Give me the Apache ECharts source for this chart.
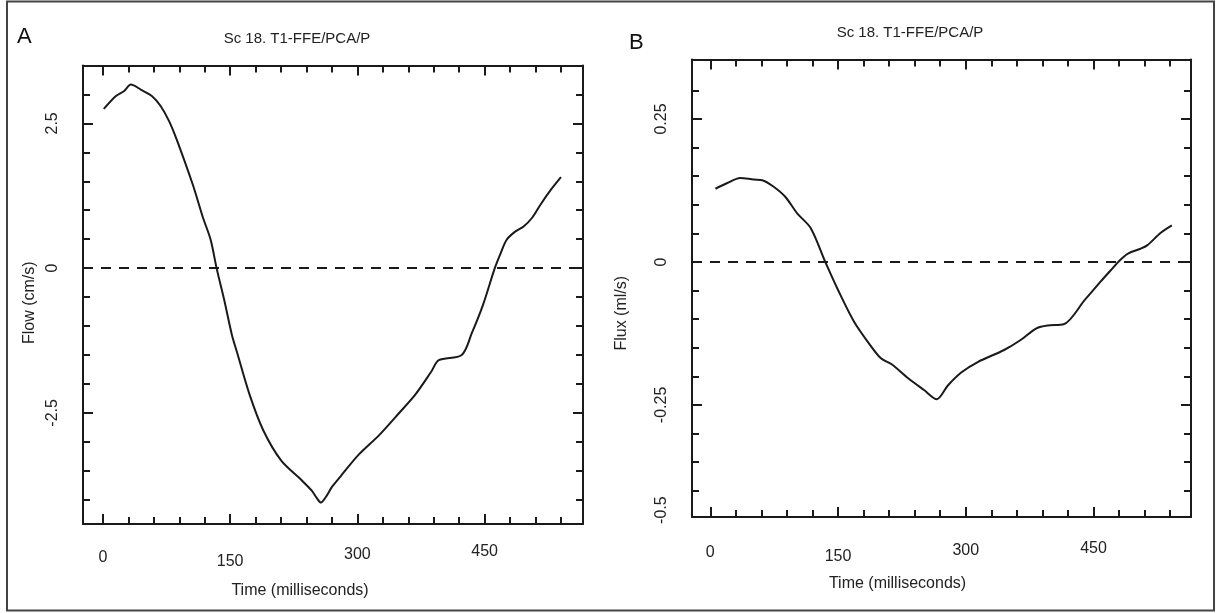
<!DOCTYPE html>
<html>
<head>
<meta charset="utf-8">
<script src="https://cdn.jsdelivr.net/npm/echarts@6/dist/echarts.min.js"></script>
<style>
html,body{margin:0;padding:0;background:#fff;}
#c{width:1216px;height:613px;}
</style>
</head>
<body>
<div id="c"></div>
<script>
// ---------- data ----------
const panelTitle = 'Sc 18. T1-FFE/PCA/P';
const xName = 'Time (milliseconds)';
const yNameA = 'Flow (cm/s)';
const yNameB = 'Flux (ml/s)';

// Panel A: flow velocity (cm/s)
const timeA = [1, 15, 25, 33, 45, 58, 68, 78, 87, 106, 118, 127, 134, 143, 152, 158, 173, 189, 210, 234, 246, 252, 257, 263, 270, 280, 301, 326, 350, 368, 387, 396, 423, 435, 448, 462, 469, 476, 486, 496, 506, 516, 528, 540];
const flowA = [2.75, 2.97, 3.06, 3.17, 3.08, 2.97, 2.80, 2.54, 2.22, 1.44, 0.87, 0.49, 0.0, -0.55, -1.15, -1.45, -2.19, -2.80, -3.32, -3.66, -3.84, -3.97, -4.05, -3.95, -3.78, -3.60, -3.23, -2.88, -2.49, -2.19, -1.79, -1.59, -1.50, -1.12, -0.64, 0.0, 0.26, 0.49, 0.63, 0.72, 0.87, 1.10, 1.35, 1.57];

// Panel B: flux (ml/s)
const timeB = [6, 20, 35, 51, 61, 74, 88, 102, 118, 135, 150, 169, 188, 200, 213, 232, 251, 266, 279, 295, 314, 345, 364, 383, 396, 415, 440, 458, 470, 481, 491, 505, 513, 529, 542];
const fluxB = [0.128, 0.138, 0.147, 0.144, 0.143, 0.132, 0.114, 0.085, 0.059, 0.0, -0.049, -0.105, -0.146, -0.168, -0.179, -0.203, -0.224, -0.240, -0.216, -0.193, -0.175, -0.154, -0.137, -0.116, -0.111, -0.109, -0.066, -0.035, -0.015, 0.003, 0.015, 0.023, 0.029, 0.051, 0.064];

// ticks & labels
const xMinorTicks = [0, 30, 60, 90, 120, 150, 180, 210, 240, 270, 300, 330, 360, 390, 420, 450, 480, 510, 540];
const xMajorTicks = [0, 150, 300, 450];
const xLabelVals = [0, 150, 300, 450];
const xLabelTexts = ['0', '150', '300', '450'];

const yMinorTicksA = [-4, -3.5, -3, -2.5, -2, -1.5, -1, -0.5, 0, 0.5, 1, 1.5, 2, 2.5, 3];
const yMajorTicksA = [-2.5, 0, 2.5];
const yLabelValsA = [2.5, 0, -2.5];
const yLabelTextsA = ['2.5', '0', '-2.5'];

const yMinorTicksB = [-0.4, -0.35, -0.3, -0.25, -0.2, -0.15, -0.1, -0.05, 0, 0.05, 0.1, 0.15, 0.2, 0.25, 0.3];
const yMajorTicksB = [-0.25, 0, 0.25];
const yLabelValsB = [0.25, 0, -0.25, -0.434];
const yLabelTextsB = ['0.25', '0', '-0.25', '-0.5'];

// ---------- chart ----------
const INK = '#1a1a1a';
const TXT = '#222';
const FONT = 'Liberation Sans, Arial, sans-serif';

function lookup(vals, texts, v) {
  for (let i = 0; i < vals.length; i++) if (Math.abs(vals[i] - v) < 1e-6) return texts[i];
  return '';
}

function xAxesFor(gi, min, max, labelMargin, padTops, nameShift) {
  const rich = {};
  padTops.forEach((p, i) => { rich['s' + i] = { fontSize: 16, fontFamily: FONT, color: TXT, padding: [p, 0, 0, 0] }; });
  const hidden = { show: false, onZero: false };
  return [
    { type: 'value', gridIndex: gi, position: 'bottom', min, max,
      axisLine: { show: true, onZero: false, lineStyle: { color: INK, width: 2 } },
      axisTick: { show: true, inside: true, length: 7, lineStyle: { color: INK, width: 2 }, customValues: xMinorTicks },
      axisLabel: { show: true, margin: labelMargin, customValues: xLabelVals,
        formatter: v => { const i = xLabelVals.indexOf(v); return i < 0 ? '' : '{s' + i + '|' + xLabelTexts[i] + '}'; }, rich },
      splitLine: { show: false },
      name: xName, nameLocation: 'middle', nameGap: 59,
      nameTextStyle: { fontSize: 16, fontFamily: FONT, color: TXT, padding: nameShift } },
    { type: 'value', gridIndex: gi, position: 'bottom', min, max,
      axisLine: hidden,
      axisTick: { show: true, inside: true, length: 10, lineStyle: { color: INK, width: 2 }, customValues: xMajorTicks },
      axisLabel: { show: false }, splitLine: { show: false } },
    { type: 'value', gridIndex: gi, position: 'top', min, max,
      axisLine: { show: true, onZero: false, lineStyle: { color: INK, width: 2 } },
      axisTick: { show: true, inside: true, length: 7, lineStyle: { color: INK, width: 2 }, customValues: xMinorTicks },
      axisLabel: { show: false }, splitLine: { show: false } },
    { type: 'value', gridIndex: gi, position: 'top', min, max,
      axisLine: hidden,
      axisTick: { show: true, inside: true, length: 10, lineStyle: { color: INK, width: 2 }, customValues: xMajorTicks },
      axisLabel: { show: false }, splitLine: { show: false } }
  ];
}

function yAxesFor(gi, min, max, minor, major, lvals, ltexts, name, nameGap, namePad) {
  const hidden = { show: false, onZero: false };
  return [
    { type: 'value', gridIndex: gi, position: 'left', min, max,
      axisLine: { show: true, onZero: false, lineStyle: { color: INK, width: 2 } },
      axisTick: { show: true, inside: true, length: 7, lineStyle: { color: INK, width: 2 }, customValues: minor },
      axisLabel: { show: true, rotate: 90, margin: 22, customValues: lvals, fontSize: 16, fontFamily: FONT, color: TXT,
        formatter: v => lookup(lvals, ltexts, v) },
      splitLine: { show: false },
      name, nameLocation: 'middle', nameGap,
      nameTextStyle: { fontSize: 16, fontFamily: FONT, color: TXT, padding: namePad } },
    { type: 'value', gridIndex: gi, position: 'left', min, max,
      axisLine: hidden,
      axisTick: { show: true, inside: true, length: 10, lineStyle: { color: INK, width: 2 }, customValues: major },
      axisLabel: { show: false }, splitLine: { show: false } },
    { type: 'value', gridIndex: gi, position: 'right', min, max,
      axisLine: { show: true, onZero: false, lineStyle: { color: INK, width: 2 } },
      axisTick: { show: true, inside: true, length: 7, lineStyle: { color: INK, width: 2 }, customValues: minor },
      axisLabel: { show: false }, splitLine: { show: false } },
    { type: 'value', gridIndex: gi, position: 'right', min, max,
      axisLine: hidden,
      axisTick: { show: true, inside: true, length: 10, lineStyle: { color: INK, width: 2 }, customValues: major },
      axisLabel: { show: false }, splitLine: { show: false } }
  ];
}

const zeroLine = {
  silent: true, symbol: 'none',
  label: { show: false },
  lineStyle: { color: INK, width: 2, type: [10, 8] },
  emphasis: { disabled: true },
  data: [{ yAxis: 0 }]
};

const option = {
  backgroundColor: '#fff',
  animation: false,
  grid: [
    { left: 83, top: 65.5, width: 500, height: 458.5 },
    { left: 692, top: 59.5, width: 499, height: 457.5 }
  ],
  xAxis: [
    ...xAxesFor(0, -23.5, 566, 20, [6, 10, 3, 0], [0, 66, 0, 0]),
    ...xAxesFor(1, -21.5, 564.5, 24, [4, 8, 2, 0], [0, 88, 0, 0])
  ],
  yAxis: [
    ...yAxesFor(0, -4.42, 3.5, yMinorTicksA, yMajorTicksA, yLabelValsA, yLabelTextsA, yNameA, 45, [0, 16, 0, 0]),
    ...yAxesFor(1, -0.446, 0.354, yMinorTicksB, yMajorTicksB, yLabelValsB, yLabelTextsB, yNameB, 62, [0, 50, 0, 0])
  ],
  title: [
    { text: panelTitle, left: 292, top: 26, textAlign: 'center',
      textStyle: { fontSize: 15, fontWeight: 'normal', fontFamily: FONT, color: TXT } },
    { text: panelTitle, left: 905, top: 20, textAlign: 'center',
      textStyle: { fontSize: 15, fontWeight: 'normal', fontFamily: FONT, color: TXT } },
    { text: 'A', left: 12, top: 21, textStyle: { fontSize: 22, fontWeight: 'normal', fontFamily: FONT, color: '#111' } },
    { text: 'B', left: 624, top: 27, textStyle: { fontSize: 22, fontWeight: 'normal', fontFamily: FONT, color: '#111' } }
  ],
  graphic: [
    { type: 'rect', shape: { x: 7, y: 1.5, width: 1207, height: 609 },
      style: { fill: 'none', stroke: '#444', lineWidth: 2 }, silent: true }
  ],
  series: [
    { type: 'line', xAxisIndex: 0, yAxisIndex: 0, showSymbol: false, smooth: 0.3,
      lineStyle: { color: INK, width: 2 }, data: timeA.map((t, i) => [t, flowA[i]]),
      markLine: zeroLine },
    { type: 'line', xAxisIndex: 4, yAxisIndex: 4, showSymbol: false, smooth: 0.3,
      lineStyle: { color: INK, width: 2 }, data: timeB.map((t, i) => [t, fluxB[i]]),
      markLine: zeroLine }
  ]
};

const chart = echarts.init(document.getElementById('c'), null, { renderer: 'canvas' });
chart.setOption(option);
</script>
</body>
</html>
